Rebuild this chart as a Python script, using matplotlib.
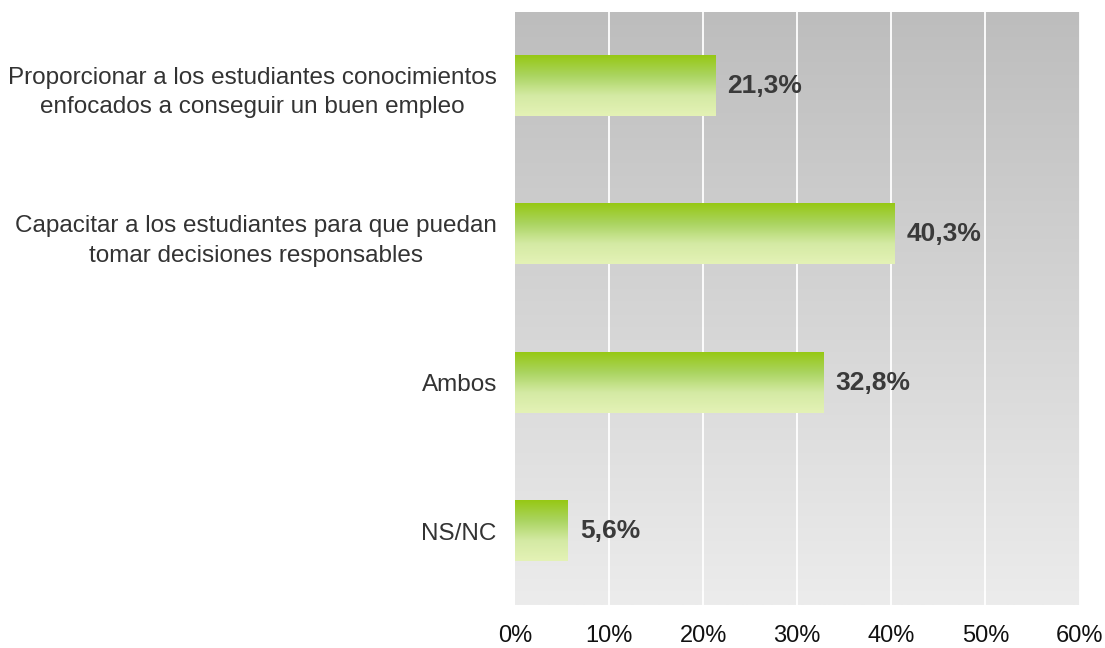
import numpy as np
import matplotlib.pyplot as plt
from matplotlib.colors import LinearSegmentedColormap

plt.rcParams['font.family'] = ['Liberation Sans', 'DejaVu Sans']

# Data
categories = [
    'Proporcionar a los estudiantes conocimientos\nenfocados a conseguir un buen empleo',
    'Capacitar a los estudiantes para que puedan\ntomar decisiones responsables',
    'Ambos',
    'NS/NC',
]
values = [21.3, 40.3, 32.8, 5.6]
value_labels = ['21,3%', '40,3%', '32,8%', '5,6%']
xticks = [0, 10, 20, 30, 40, 50, 60]
xtick_labels = ['0%', '10%', '20%', '30%', '40%', '50%', '60%']

fig = plt.figure(figsize=(11.05, 6.48), dpi=100)
ax = fig.add_axes([0.466, 0.066, 0.511, 0.9155])

ypos = np.arange(len(categories))

# background gradient (dark at top, light at bottom)
bg = LinearSegmentedColormap.from_list('bg', ['#bdbdbd', '#ececec'])
ax.imshow(np.linspace(0, 1, 256).reshape(-1, 1), cmap=bg, aspect='auto',
          extent=[0, 1, 0, 1], transform=ax.transAxes, zorder=0)

for x in xticks[1:]:
    ax.axvline(x, color='white', lw=1.3, zorder=1)

# bars with green vertical gradient
bar_h = 0.405
bars = ax.barh(ypos, values, height=bar_h, color='none', zorder=2)
green = LinearSegmentedColormap.from_list('gr', ['#96c814', '#aad460', '#d4eaa4', '#e4f2b6'])
grad = np.linspace(0, 1, 256).reshape(-1, 1)
for b in bars:
    x0, y0 = b.get_x(), b.get_y()
    w, h = b.get_width(), b.get_height()
    ax.imshow(grad, cmap=green, aspect='auto',
              extent=[x0, x0 + w, y0 + h, y0], zorder=2)

for y, v, lab in zip(ypos, values, value_labels):
    ax.text(v + 1.3, y, lab, va='center', ha='left', fontsize=19,
            fontweight='bold', color='#3a3a3a', zorder=3)

ax.set_xlim(0, 60)
ax.set_ylim(len(categories) - 0.5, -0.5)
ax.set_xticks(xticks)
ax.set_xticklabels(xtick_labels, fontsize=17, color='#111111')
ax.set_yticks(ypos)
ax.set_yticklabels(categories, fontsize=17.5, multialignment='center',
                   linespacing=1.45, color='#333333')
ax.tick_params(axis='x', length=0, pad=14)
ax.tick_params(axis='y', length=0, pad=13)
for s in ax.spines.values():
    s.set_visible(False)

fig.savefig('out.png', dpi=100)
